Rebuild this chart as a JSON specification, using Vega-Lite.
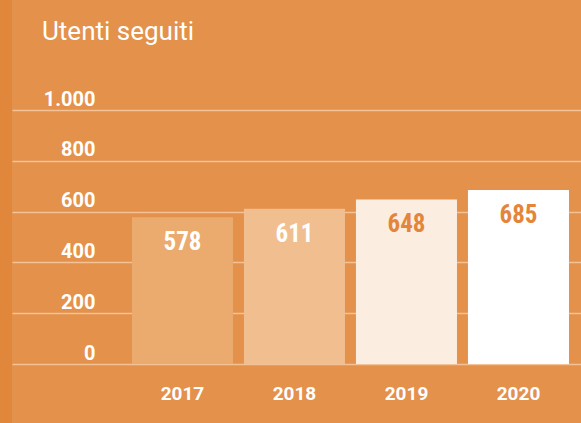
{
  "$schema": "https://vega.github.io/schema/vega-lite/v6.json",
  "width": 569,
  "height": 423,
  "autosize": "none",
  "padding": {"left": 12, "top": 0, "right": 0, "bottom": 0},
  "background": "#E0873B",
  "config": {
    "view": {"fill": "#E3914B", "stroke": null},
    "font": "Roboto"
  },
  "title": {
    "text": "Utenti seguiti",
    "anchor": "start",
    "frame": "group",
    "orient": "top",
    "dx": 30,
    "offset": -66,
    "baseline": "alphabetic",
    "font": "Roboto",
    "fontSize": 26,
    "fontWeight": "normal",
    "color": "#FFFFFF"
  },
  "data": {
    "values": [
      {"year": "2017", "value": 578},
      {"year": "2018", "value": 611},
      {"year": "2019", "value": 648},
      {"year": "2020", "value": 685}
    ]
  },
  "encoding": {
    "x": {
      "field": "year",
      "type": "nominal",
      "sort": null,
      "scale": {"paddingInner": 0.098, "paddingOuter": 0.589, "align": 0.909},
      "axis": {
        "title": null,
        "orient": "bottom",
        "offset": -30,
        "domain": false,
        "ticks": false,
        "tickSize": 0,
        "labelPadding": 0,
        "labelBaseline": "middle",
        "labelAngle": 0,
        "labelFont": "Roboto",
        "labelFontWeight": "bold",
        "labelFontSize": 19,
        "labelColor": "#FFFFFF",
        "grid": false
      }
    },
    "y": {
      "field": "value",
      "type": "quantitative",
      "scale": {"domain": [0, 1000], "range": [364, 110], "nice": false},
      "axis": {
        "title": null,
        "orient": "left",
        "domain": false,
        "ticks": false,
        "tickSize": 0,
        "labelPadding": -83,
        "labelAlign": "right",
        "labelBaseline": "alphabetic",
        "labelOffset": -5,
        "labelFlush": false,
        "labelBound": false,
        "labelOverlap": false,
        "labelColor": "#FFFFFF",
        "labelFont": "Roboto",
        "labelFontWeight": "bold",
        "labelFontSize": 20,
        "grid": true,
        "gridColor": "#F3C397",
        "gridWidth": 1.5,
        "values": [0, 200, 400, 600, 800, 1000],
        "format": ",d",
        "labelExpr": "replace(datum.label, ',', '.')"
      }
    }
  },
  "layer": [
    {
      "mark": {"type": "bar"},
      "encoding": {
        "color": {
          "field": "year",
          "type": "nominal",
          "scale": {
            "domain": ["2017", "2018", "2019", "2020"],
            "range": ["#EBAB6E", "#F1BE8F", "#FBEDE0", "#FFFFFF"]
          },
          "legend": null
        }
      }
    },
    {
      "mark": {
        "type": "text",
        "baseline": "alphabetic",
        "dy": 33,
        "font": "Liberation Sans Narrow, Roboto Condensed, Roboto",
        "fontSize": 25,
        "fontWeight": "bold"
      },
      "encoding": {
        "text": {"field": "value", "type": "quantitative"},
        "color": {
          "condition": {"test": "datum.year == '2019' || datum.year == '2020'", "value": "#E3863B"},
          "value": "#FFFFFF"
        }
      }
    }
  ]
}
